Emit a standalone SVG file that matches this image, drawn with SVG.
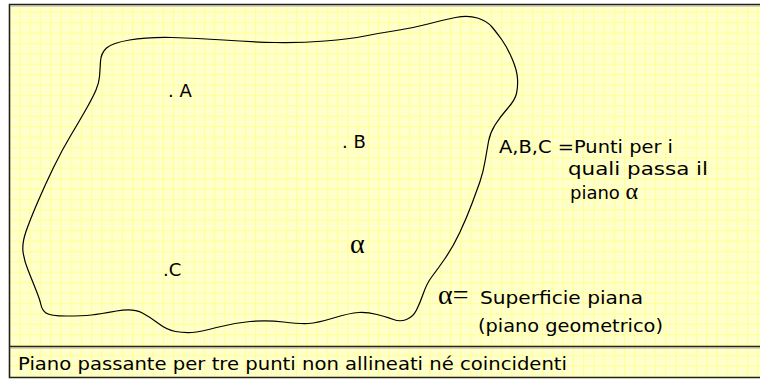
<svg xmlns="http://www.w3.org/2000/svg" width="760" height="379" viewBox="0 0 760 379">
  <defs>
    <pattern id="grid" patternUnits="userSpaceOnUse" x="9.05" y="1.3" width="10.25" height="10.4">
      <rect width="10.25" height="10.4" fill="#FFFFCC"/>
      <path d="M0 0.5 H10.25 M0.5 0 V10.4" stroke="#FFFF99" stroke-width="1.4" fill="none"/>
    </pattern>
    <style>
      .t { font-family: "Comic Sans MS", "DejaVu Sans", sans-serif; font-size: 18px; fill: #000; }
      .g { font-family: "Liberation Serif", serif; fill: #000; }
      .frame { fill: none; stroke: #222; stroke-width: 1.6; }
      .blob { fill: none; stroke: #000; stroke-width: 1.2; stroke-linejoin: round; }
    </style>
  </defs>
  <rect width="760" height="379" fill="#FFFFFF"/>
  <rect x="9.5" y="4.5" width="760" height="373" fill="url(#grid)"/>
  <g id="frame">
    <path class="frame" d="M770 4.5 H9.5 V377.5 H770"/>
    <path d="M9.5 346.5 H770" stroke="#222" stroke-width="1.6" fill="none"/>
    <path d="M10 6 H770 M10 348 H770" stroke="#999" stroke-width="0.8" fill="none"/>
  </g>
  <g id="plane">
    <path class="blob" d="M100.5,61.5 Q101,53 106.5,48 Q112,43 129.5,40 Q147,37 172,37.5 Q197,38 223.5,40 Q250,42 275,42.5 Q300,43 325,41 Q350,39 365,36 Q380,33 396.5,30.5 Q413,28 428,24 Q443,20 455.5,17.5 Q468,15 477.5,18 Q487,21 492,27 Q497,33 502,40 Q507,47 512,58.5 Q517,70 517.5,78.5 Q518,87 516.5,93.5 Q515,100 507.5,108.5 Q500,117 495,125 Q490,133 488.5,141.5 Q487,150 485,161.5 Q483,173 480,181.5 Q477,190 472,203.5 Q467,217 460,232 Q453,247 445,258.5 Q437,270 432,276.5 Q427,283 423.5,293 Q420,303 416.5,310 Q413,317 406.5,319.5 Q400,322 393.5,319.5 Q387,317 377,314.5 Q367,312 358.5,312.5 Q350,313 333.5,318 Q317,323 308.5,323.5 Q300,324 283.5,322 Q267,320 250,321.5 Q233,323 216.5,327.5 Q200,332 192,332.5 Q184,333 175.5,331.5 Q167,330 158.5,323.5 Q150,317 141.5,312.5 Q133,308 116.5,311 Q100,314 91.5,315 Q83,316 66.5,316 Q50,316 46,313 Q42,310 41,305 Q40,300 36,290 Q32,280 28,270 Q24,260 23,251.5 Q22,243 26,231.5 Q30,220 37.5,202.5 Q45,185 53.5,167.5 Q62,150 71,135 Q80,120 86.5,108.5 Q93,97 96,90 Q99,83 99.5,76.5 Q100,70 100.5,61.5 Z"/>
  </g>
  <g id="pointA"><text class="t" x="168" y="97">. A</text></g>
  <g id="pointB"><text class="t" x="342" y="148">. B</text></g>
  <g id="pointC"><text class="t" x="163" y="276">.C</text></g>
  <g id="alpha"><text class="g" x="350" y="253" font-size="28">α</text></g>
  <g id="label-abc">
    <text class="t" x="499" y="153" textLength="174" lengthAdjust="spacingAndGlyphs">A,B,C =Punti per i</text>
    <text class="t" x="568" y="175" textLength="140" lengthAdjust="spacingAndGlyphs">quali passa il</text>
    <text class="t" x="570" y="199">piano <tspan class="g" font-size="24">α</tspan></text>
  </g>
  <g id="label-alpha">
    <text x="438" y="304"><tspan class="g" font-size="28">α=</tspan></text>
    <text class="t" x="480" y="304" textLength="163" lengthAdjust="spacingAndGlyphs">Superficie piana</text>
    <text class="t" x="478" y="332" textLength="185" lengthAdjust="spacingAndGlyphs">(piano geometrico)</text>
  </g>
  <g id="caption">
    <text class="t" x="18" y="370" textLength="549" lengthAdjust="spacingAndGlyphs">Piano passante per tre punti non allineati né coincidenti</text>
  </g>
</svg>
